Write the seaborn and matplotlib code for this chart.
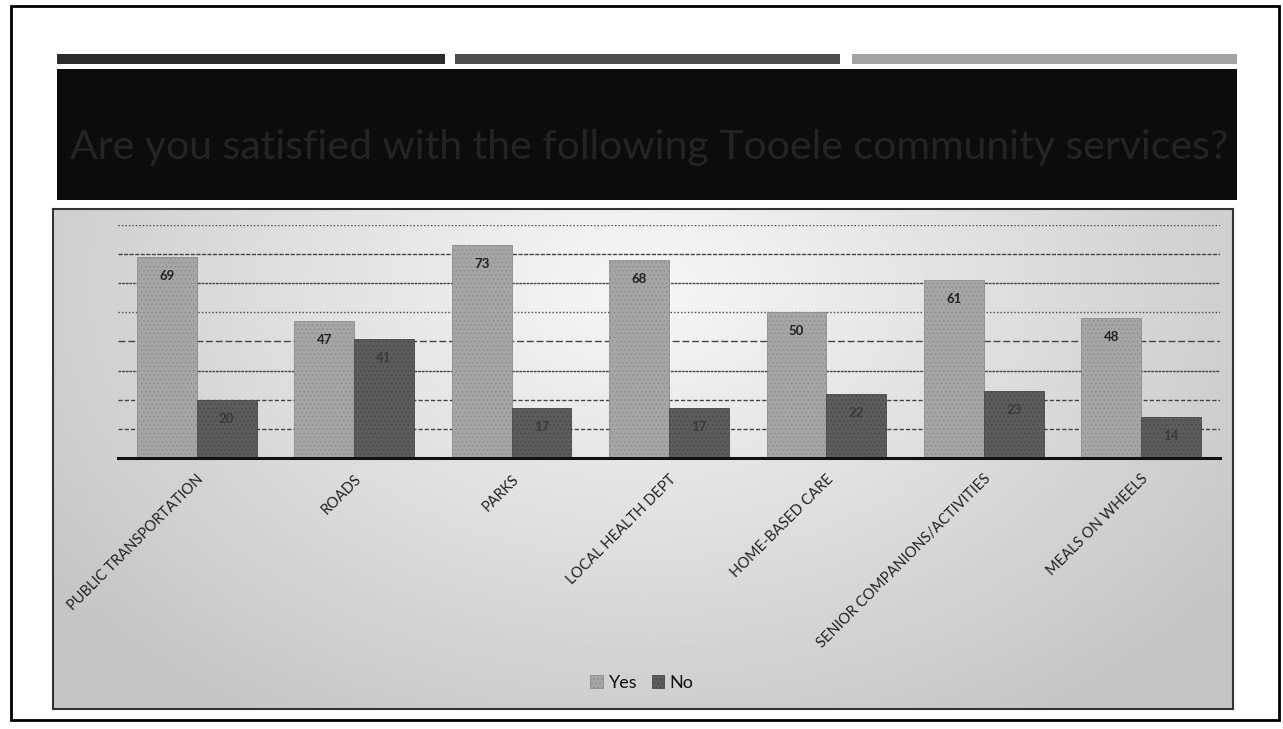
import numpy as np
import pandas as pd
import matplotlib
matplotlib.use("Agg")
import matplotlib.pyplot as plt
import seaborn as sns
from matplotlib.patches import Rectangle, Patch

# Survey results
services = [
    "PUBLIC TRANSPORTATION",
    "ROADS",
    "PARKS",
    "LOCAL HEALTH DEPT",
    "HOME-BASED CARE",
    "SENIOR COMPANIONS/ACTIVITIES",
    "MEALS ON WHEELS",
]
yes_counts = [69, 47, 73, 68, 50, 61, 48]
no_counts = [20, 41, 17, 17, 22, 23, 14]
responses = ["Yes", "No"]
title = "Are you satisfied with the following Tooele community services?"

W, H = 1283, 729
sns.set_theme(style="white")
plt.rcParams["font.family"] = ["Lato", "DejaVu Sans"]
plt.rcParams["hatch.linewidth"] = 0.6

fig = plt.figure(figsize=(W / 100, H / 100), dpi=100)
fig.patch.set_facecolor("white")


def px_rect(x0, y0, x1, y1):
    return [x0 / W, 1 - y1 / H, (x1 - x0) / W, (y1 - y0) / H]


def fig_box(x0, y0, x1, y1, **kw):
    fig.add_artist(Rectangle((x0 / W, 1 - y1 / H), (x1 - x0) / W, (y1 - y0) / H,
                             transform=fig.transFigure, **kw))


# slide frame
fig_box(11, 6, 1279, 720, fill=False, ec="black", lw=2)

# decorative header strips
for x0, x1, c in [(57, 445, "#2b2b2b"), (455, 840, "#4d4d4d"), (852, 1237, "#a3a3a3")]:
    fig_box(x0, 54, x1, 64, color=c, lw=0)

# title band
fig_box(57, 69, 1237, 200, color="#0c0c0c", lw=0)
fig.text(649 / W, 1 - 147 / H, title, ha="center", va="center",
         fontsize=29.5, color="#242424")

# chart panel with soft gradient fill
bg = fig.add_axes(px_rect(53, 209, 1233, 709))
yy, xx = np.mgrid[0:1:200j, 0:1:400j]
d = np.sqrt(((xx - 0.5) / 0.6) ** 2 + ((yy - 0.15) / 1.0) ** 2)
shade = np.clip(0.97 - 0.19 * d, 0.77, 0.97)
bg.imshow(shade, cmap="gray", vmin=0, vmax=1, aspect="auto", extent=[0, 1, 1, 0])
bg.set_xticks([])
bg.set_yticks([])
for s in bg.spines.values():
    s.set_color("#333333")
    s.set_linewidth(1.5)

# grouped bars
df = pd.DataFrame({
    "service": services * 2,
    "response": ["Yes"] * len(services) + ["No"] * len(services),
    "count": yes_counts + no_counts,
})
colors = {"Yes": "#a6a6a6", "No": "#5c5c5c"}
edge = {"Yes": "#8c8c8c", "No": "#474747"}

ax = fig.add_axes(px_rect(118, 225, 1220, 458))
ax.set_facecolor("none")
sns.barplot(data=df, x="service", y="count", hue="response", order=services,
            hue_order=responses, palette=colors, width=0.76, gap=0,
            saturation=1, legend=False, ax=ax, zorder=3)

for cont, resp in zip(ax.containers, responses):
    for bar in cont:
        bar.set_hatch("....")
        bar.set_edgecolor(edge[resp])
        bar.set_linewidth(0.6)
    ax.bar_label(cont, fmt="%d", padding=-18, fontsize=9.5, fontweight="bold",
                 color="#222222" if resp == "Yes" else "#3a3a3a", zorder=4)

ax.set_xlim(-0.5, len(services) - 0.5)
ax.set_ylim(0, 80)
ax.set_yticks([])
ax.set_xlabel("")
ax.set_ylabel("")

# horizontal guide lines, each with its own dash pattern
grid_styles = {
    10: (0, (3, 1.5)), 20: (0, (3, 1.5)), 30: (0, (2, 0.6)), 40: (0, (5, 2)),
    50: (0, (1, 1.5)), 60: (0, (2, 0.6)), 70: (0, (3, 1)), 80: (0, (1, 1.5)),
}
for level, ls in grid_styles.items():
    ax.axhline(level, color="#444444", lw=1, ls=ls, zorder=1)

for side in ["left", "right", "top"]:
    ax.spines[side].set_visible(False)
ax.spines["bottom"].set_color("#111111")
ax.spines["bottom"].set_linewidth(2.2)
ax.spines["bottom"].set_zorder(5)

ax.tick_params(axis="x", length=0, pad=10)
for lbl in ax.get_xticklabels():
    lbl.set_rotation(45)
    lbl.set_ha("right")
    lbl.set_rotation_mode("anchor")
    lbl.set_fontsize(10.5)
    lbl.set_color("#222222")

handles = [Patch(facecolor=colors[r], edgecolor=edge[r], hatch="....", lw=0.6)
           for r in responses]
fig.legend(handles=handles, labels=responses, loc="center",
           bbox_to_anchor=(642 / W, 1 - 683 / H), ncol=2, frameon=False,
           fontsize=13, handlelength=0.7, handleheight=0.7,
           columnspacing=0.8, handletextpad=0.3, labelcolor="#111111")

fig.savefig("out.png", dpi=100)
